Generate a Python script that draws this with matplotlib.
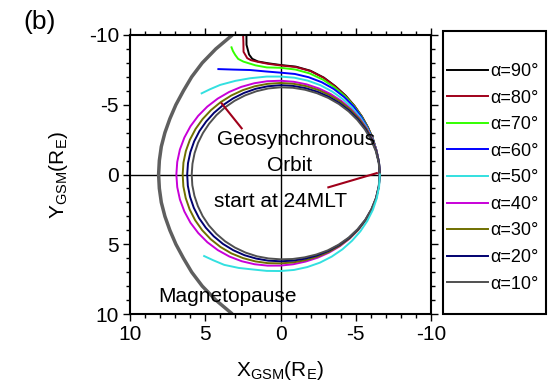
import numpy as np
import matplotlib.pyplot as plt
from matplotlib.patches import Rectangle
from matplotlib.ticker import MultipleLocator

plt.rcParams['font.family'] = ['Liberation Sans', 'DejaVu Sans']
plt.rcParams['mathtext.fontset'] = 'custom'
plt.rcParams['mathtext.rm'] = 'Liberation Sans'
plt.rcParams['mathtext.it'] = 'Liberation Sans:italic'
plt.rcParams['axes.unicode_minus'] = False

# closed drift shells: radius (R_E) every half hour of MLT, starting at 24 MLT
mlt_grid = np.arange(0, 24.5, 0.5)
r_a10 = [6.6, 6.58, 6.55, 6.51, 6.47, 6.43, 6.4, 6.37, 6.34, 6.31, 6.29, 6.27,
         6.25, 6.22, 6.18, 6.14, 6.1, 6.06, 6.02, 5.98, 5.95, 5.93, 5.91, 5.9,
         5.9, 5.91, 5.92, 5.94, 5.97, 6.0, 6.02, 6.04, 6.05, 6.06, 6.07, 6.07,
         6.08, 6.11, 6.15, 6.21, 6.28, 6.34, 6.4, 6.45, 6.5, 6.53, 6.56, 6.58, 6.6]
r_a20 = [6.6, 6.59, 6.57, 6.545, 6.52, 6.495, 6.47, 6.45, 6.43, 6.42, 6.41, 6.405,
         6.4, 6.38, 6.36, 6.33, 6.3, 6.27, 6.25, 6.23, 6.22, 6.21, 6.2, 6.2,
         6.2, 6.21, 6.22, 6.235, 6.25, 6.26, 6.27, 6.275, 6.27, 6.26, 6.24, 6.23,
         6.22, 6.23, 6.25, 6.29, 6.33, 6.38, 6.43, 6.47, 6.51, 6.54, 6.57, 6.59, 6.6]
r_a30 = [6.6, 6.595, 6.59, 6.585, 6.58, 6.575, 6.57, 6.565, 6.56, 6.56, 6.56, 6.56,
         6.56, 6.555, 6.55, 6.545, 6.54, 6.535, 6.53, 6.525, 6.52, 6.515, 6.51, 6.505,
         6.5, 6.51, 6.52, 6.535, 6.55, 6.56, 6.56, 6.55, 6.53, 6.49, 6.45, 6.41,
         6.37, 6.36, 6.36, 6.38, 6.41, 6.445, 6.48, 6.51, 6.54, 6.56, 6.58, 6.59, 6.6]
r_a40 = [6.6, 6.6, 6.6, 6.605, 6.61, 6.62, 6.63, 6.645, 6.66, 6.675, 6.69, 6.705,
         6.72, 6.745, 6.77, 6.8, 6.83, 6.855, 6.88, 6.9, 6.91, 6.915, 6.92, 6.92,
         6.92, 6.92, 6.92, 6.915, 6.91, 6.89, 6.87, 6.835, 6.79, 6.73, 6.66, 6.59,
         6.53, 6.49, 6.46, 6.455, 6.46, 6.48, 6.5, 6.52, 6.54, 6.56, 6.58, 6.59, 6.6]

# open trajectories (MLT, radius)
mlt_a50_dawn = [0, 0.5, 1, 1.5, 2, 2.5, 3, 3.5, 4, 4.5, 5, 5.5, 6, 6.5, 7.09,
                7.6, 8.13, 8.5, 8.8]
r_a50_dawn = [6.6, 6.6, 6.6, 6.62, 6.65, 6.7, 6.75, 6.81, 6.87, 6.93, 6.97, 7.0,
              7.02, 7.08, 7.19, 7.35, 7.57, 7.7, 7.83]
mlt_a50_dusk = [24, 23.5, 23, 22.5, 22, 21.5, 21, 20.5, 20, 19.5, 19, 18.5, 18,
                17.5, 17, 16.5, 16, 15.6, 15.27]
r_a50_dusk = [6.6, 6.61, 6.62, 6.64, 6.66, 6.69, 6.72, 6.76, 6.8, 6.84, 6.87,
              6.9, 6.92, 6.97, 7.05, 7.25, 7.48, 7.6, 7.74]
mlt_a60 = [0, 0.5, 1, 1.5, 2, 2.5, 3, 3.5, 4, 4.5, 5, 5.5, 6, 6.5, 7.01, 7.5, 7.91]
r_a60 = [6.6, 6.6, 6.6, 6.63, 6.68, 6.77, 6.88, 6.98, 7.08, 7.16, 7.22, 7.27,
         7.3, 7.45, 7.76, 8.14, 8.61]
mlt_a70 = [0, 0.5, 1, 1.5, 2, 2.5, 3, 3.5, 4, 4.5, 5, 5.5, 6, 6.45, 6.8, 7.13,
           7.25, 7.29, 7.31, 7.31]
r_a70 = [6.6, 6.6, 6.6, 6.64, 6.7, 6.8, 6.92, 7.06, 7.2, 7.36, 7.5, 7.59, 7.65,
         7.73, 8.0, 8.46, 8.75, 9.09, 9.4, 9.68]
mlt_a80 = [0, 0.5, 1, 1.5, 2, 2.5, 3, 3.5, 4, 4.5, 5, 5.5, 6, 6.4, 6.73, 6.9,
           6.99, 7.04, 6.97, 6.93]
r_a80 = [6.6, 6.6, 6.6, 6.65, 6.72, 6.82, 6.95, 7.1, 7.28, 7.5, 7.68, 7.77, 7.82,
         7.98, 8.24, 8.43, 8.63, 9.13, 9.82, 10.3]
mlt_a90 = [0, 0.5, 1, 1.5, 2, 2.5, 3, 3.5, 4, 4.5, 5, 5.5, 6, 6.4, 6.7, 6.85,
           6.91, 6.91, 6.85]
r_a90 = [6.6, 6.6, 6.6, 6.65, 6.72, 6.82, 6.95, 7.12, 7.3, 7.52, 7.7, 7.8, 7.85,
         8.02, 8.24, 8.5, 8.85, 9.57, 10.25]

# magnetopause in the equatorial plane
mp_y = [-10, -9, -8, -7, -6, -5, -4, -3, -2, -1, 0, 1, 2, 3, 4, 5, 6, 7, 8, 9, 10]
mp_x = [3.2, 4.3, 5.2, 5.9, 6.45, 6.95, 7.35, 7.68, 7.92, 8.05, 8.1,
        8.05, 7.92, 7.68, 7.35, 6.95, 6.45, 5.9, 5.2, 4.3, 3.2]

pitch_labels = ['α=90°', 'α=80°', 'α=70°', 'α=60°', 'α=50°',
                'α=40°', 'α=30°', 'α=20°', 'α=10°']
colors = ['#000000', '#a0001a', '#33ff00', '#0000ff', '#33e0e0',
          '#c800d8', '#707000', '#000070', '#505050']


def to_gsm(mlt, r):
    # 24 MLT points to -X, 06 MLT to -Y
    phi = np.radians(np.asarray(mlt) * 15.0)
    r = np.asarray(r)
    return -r * np.cos(phi), -r * np.sin(phi)


fig = plt.figure(figsize=(5.5, 3.83), dpi=100)
ax = fig.add_axes([130 / 550, 1 - 314 / 383, 301 / 550, 279 / 383])

ax.axhline(0, color='k', lw=1.0, zorder=1)
ax.axvline(0, color='k', lw=1.0, zorder=1)

ax.plot(mp_x, mp_y, color='#5f5f5f', lw=2.5, solid_capstyle='butt')

curves = [
    (mlt_a90, r_a90), (mlt_a80, r_a80), (mlt_a70, r_a70), (mlt_a60, r_a60),
    (mlt_a50_dawn, r_a50_dawn), (mlt_grid, r_a40), (mlt_grid, r_a30),
    (mlt_grid, r_a20), (mlt_grid, r_a10),
]
handles = []
for (m, r), lab, c in zip(curves, pitch_labels, colors):
    x, y = to_gsm(m, r)
    h, = ax.plot(x, y, color=c, lw=1.4, label=lab)
    handles.append(h)
x, y = to_gsm(mlt_a50_dusk, r_a50_dusk)
ax.plot(x, y, color=colors[4], lw=1.4)

ax.set_xlim(10, -10)
ax.set_ylim(10, -10)
ax.xaxis.set_major_locator(MultipleLocator(5))
ax.yaxis.set_major_locator(MultipleLocator(5))
ax.xaxis.set_minor_locator(MultipleLocator(1))
ax.yaxis.set_minor_locator(MultipleLocator(1))
ax.tick_params(which='both', direction='out', labelsize=15, width=1.0, pad=3)
ax.tick_params(which='major', length=5)
ax.tick_params(which='minor', length=3)
ax.tick_params(which='both', top=True, right=True)
for s in ax.spines.values():
    s.set_linewidth(1.5)

ax.set_xlabel(r'X$_{\rm GSM}$(R$_{\rm E}$)', fontsize=15)
ax.set_ylabel(r'Y$_{\rm GSM}$(R$_{\rm E}$)', fontsize=15)
ax.xaxis.set_label_coords(0.5, -0.16)
ax.yaxis.set_label_coords(-0.2, 0.5)

ax.text(-1.03, -2.54, 'Geosynchronous', fontsize=15, ha='center', va='center')
ax.text(-0.63, -0.68, 'Orbit', fontsize=15, ha='center', va='center')
ax.text(0.0, 1.97, 'start at 24MLT', fontsize=15, ha='center', va='center')
ax.text(3.55, 8.71, 'Magnetopause', fontsize=15, ha='center', va='center')
ax.plot([2.58, 3.91], [-3.31, -5.1], color='#a0001a', lw=1.5)
ax.plot([-3.18, -6.4], [0.92, -0.1], color='#a0001a', lw=1.5)

fig.text(40 / 550, 1 - 22 / 383, '(b)', fontsize=19, ha='center', va='center')

fig.legend(handles=handles, labels=pitch_labels, loc='upper left',
           bbox_to_anchor=(447 / 550, 1 - 63 / 383), frameon=False,
           fontsize=13, handlelength=2.27, handletextpad=0.15,
           labelspacing=0.53, borderpad=0, borderaxespad=0)
fig.patches.append(Rectangle((443 / 550, 1 - 314 / 383), 103 / 550, 283 / 383,
                             transform=fig.transFigure, fill=False,
                             edgecolor='k', lw=1.5))

fig.savefig('out.png', dpi=100)
